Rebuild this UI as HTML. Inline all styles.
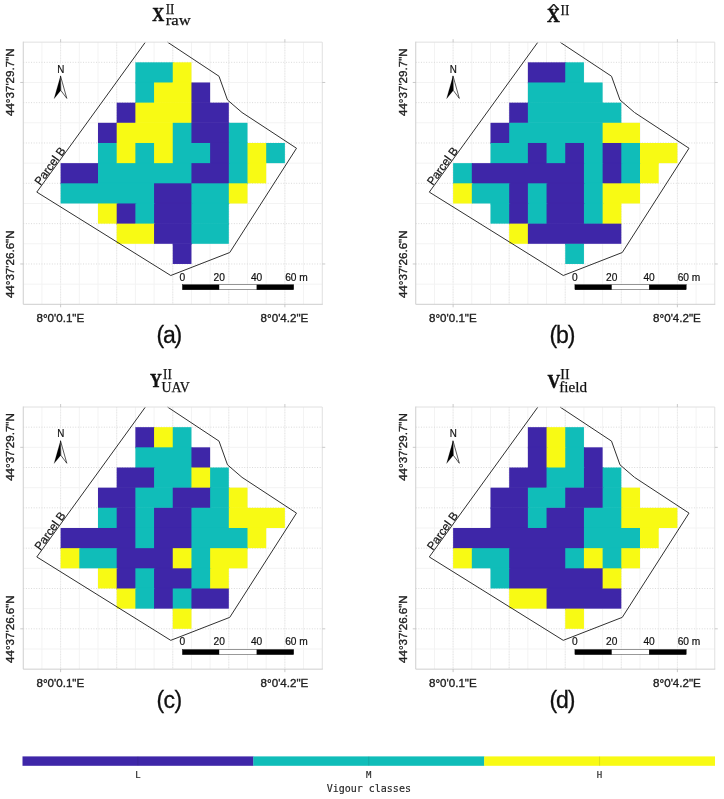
<!DOCTYPE html>
<html><head><meta charset="utf-8"><title>Vigour classes</title>
<style>
html,body{margin:0;padding:0;background:#fff}
svg{display:block}
.gs{stroke:#f3f3f3;stroke-width:1}
.gd{stroke:#dadada;stroke-width:1;stroke-dasharray:1 1.6}
.gv{stroke:#e6e6e6;stroke-width:1;stroke-dasharray:1 1.6}
.ax{fill:none;stroke:#cecece;stroke-width:1}
.ax2{fill:none;stroke:#e0e0e0;stroke-width:1}
.tk{stroke:#bdbdbd;stroke-width:0.8}
.pg{fill:none;stroke:#303030;stroke-width:1;stroke-linejoin:miter}
.n{font:11.2px "Liberation Sans",sans-serif;fill:#111;stroke:#111;stroke-width:0.2}
.pb{font:11.6px "Liberation Sans",sans-serif;fill:#111;stroke:#111;stroke-width:0.2}
.tl{font:11.6px "Liberation Sans",sans-serif;fill:#222;stroke:#222;stroke-width:0.35}
.sb{font:10.2px "Liberation Sans",sans-serif;fill:#111;stroke:#111;stroke-width:0.2}
.lt{font:23px "Liberation Sans",sans-serif;fill:#111;stroke:#111;stroke-width:0.3}
.tb{font:bold 19.5px "Liberation Serif",serif;fill:#111;stroke:#111;stroke-width:0.45}
.ts{font-family:"Liberation Serif",serif;fill:#111;stroke:#111;stroke-width:0.25}
.mono{font-family:"DejaVu Sans Mono","Liberation Mono",monospace;fill:#262626;stroke:#262626;stroke-width:0.15}
</style></head><body>
<svg width="724" height="799" viewBox="0 0 724 799">
<rect width="724" height="799" fill="#fff"/>
<g transform="translate(0,0)">
<rect x="23.25" y="42.15" width="299" height="262.15" fill="#fff"/>
<line x1="41.94" y1="42.15" x2="41.94" y2="304.3" class="gs"/>
<line x1="60.62" y1="42.15" x2="60.62" y2="304.3" class="gs"/>
<line x1="60.62" y1="42.15" x2="60.62" y2="304.3" class="gv"/>
<line x1="79.31" y1="42.15" x2="79.31" y2="304.3" class="gs"/>
<line x1="98" y1="42.15" x2="98" y2="304.3" class="gs"/>
<line x1="116.69" y1="42.15" x2="116.69" y2="304.3" class="gs"/>
<line x1="116.69" y1="42.15" x2="116.69" y2="304.3" class="gv"/>
<line x1="135.38" y1="42.15" x2="135.38" y2="304.3" class="gs"/>
<line x1="154.06" y1="42.15" x2="154.06" y2="304.3" class="gs"/>
<line x1="172.75" y1="42.15" x2="172.75" y2="304.3" class="gs"/>
<line x1="172.75" y1="42.15" x2="172.75" y2="304.3" class="gv"/>
<line x1="191.44" y1="42.15" x2="191.44" y2="304.3" class="gs"/>
<line x1="210.12" y1="42.15" x2="210.12" y2="304.3" class="gs"/>
<line x1="228.81" y1="42.15" x2="228.81" y2="304.3" class="gs"/>
<line x1="228.81" y1="42.15" x2="228.81" y2="304.3" class="gv"/>
<line x1="247.5" y1="42.15" x2="247.5" y2="304.3" class="gs"/>
<line x1="266.19" y1="42.15" x2="266.19" y2="304.3" class="gs"/>
<line x1="284.88" y1="42.15" x2="284.88" y2="304.3" class="gs"/>
<line x1="284.88" y1="42.15" x2="284.88" y2="304.3" class="gv"/>
<line x1="303.56" y1="42.15" x2="303.56" y2="304.3" class="gs"/>
<line x1="23.25" y1="62.32" x2="322.25" y2="62.32" class="gd"/>
<line x1="23.25" y1="82.48" x2="322.25" y2="82.48" class="gs"/>
<line x1="23.25" y1="102.65" x2="322.25" y2="102.65" class="gd"/>
<line x1="23.25" y1="122.81" x2="322.25" y2="122.81" class="gs"/>
<line x1="23.25" y1="142.98" x2="322.25" y2="142.98" class="gd"/>
<line x1="23.25" y1="163.14" x2="322.25" y2="163.14" class="gs"/>
<line x1="23.25" y1="183.31" x2="322.25" y2="183.31" class="gd"/>
<line x1="23.25" y1="203.47" x2="322.25" y2="203.47" class="gs"/>
<line x1="23.25" y1="223.64" x2="322.25" y2="223.64" class="gd"/>
<line x1="23.25" y1="243.8" x2="322.25" y2="243.8" class="gs"/>
<line x1="23.25" y1="263.97" x2="322.25" y2="263.97" class="gd"/>
<line x1="23.25" y1="284.13" x2="322.25" y2="284.13" class="gs"/>
<rect x="135.38" y="62.32" width="38.38" height="20.17" fill="#10bdb9"/>
<rect x="172.75" y="62.32" width="18.69" height="20.17" fill="#f8fa14"/>
<rect x="135.38" y="81.98" width="37.38" height="1.5" fill="#10bdb9"/>
<rect x="172.75" y="81.98" width="18.69" height="1.5" fill="#f8fa14"/>
<rect x="135.38" y="82.48" width="19.69" height="20.17" fill="#10bdb9"/>
<rect x="154.06" y="82.48" width="38.38" height="20.17" fill="#f8fa14"/>
<rect x="191.44" y="82.48" width="18.69" height="20.17" fill="#3e26a8"/>
<rect x="135.38" y="102.15" width="18.69" height="1.5" fill="#10bdb9"/>
<rect x="154.06" y="102.15" width="37.38" height="1.5" fill="#f8fa14"/>
<rect x="191.44" y="102.15" width="18.69" height="1.5" fill="#3e26a8"/>
<rect x="116.69" y="102.65" width="19.69" height="20.17" fill="#3e26a8"/>
<rect x="135.38" y="102.65" width="57.06" height="20.17" fill="#f8fa14"/>
<rect x="191.44" y="102.65" width="37.38" height="20.17" fill="#3e26a8"/>
<rect x="116.69" y="122.31" width="18.69" height="1.5" fill="#3e26a8"/>
<rect x="135.38" y="122.31" width="56.06" height="1.5" fill="#f8fa14"/>
<rect x="191.44" y="122.31" width="37.38" height="1.5" fill="#3e26a8"/>
<rect x="98" y="122.81" width="19.69" height="20.17" fill="#3e26a8"/>
<rect x="116.69" y="122.81" width="57.06" height="20.17" fill="#f8fa14"/>
<rect x="172.75" y="122.81" width="19.69" height="20.17" fill="#10bdb9"/>
<rect x="191.44" y="122.81" width="38.38" height="20.17" fill="#3e26a8"/>
<rect x="228.81" y="122.81" width="18.69" height="20.17" fill="#10bdb9"/>
<rect x="98" y="142.48" width="18.69" height="1.5" fill="#3e26a8"/>
<rect x="116.69" y="142.48" width="56.06" height="1.5" fill="#f8fa14"/>
<rect x="172.75" y="142.48" width="18.69" height="1.5" fill="#10bdb9"/>
<rect x="191.44" y="142.48" width="37.38" height="1.5" fill="#3e26a8"/>
<rect x="228.81" y="142.48" width="18.69" height="1.5" fill="#10bdb9"/>
<rect x="98" y="142.98" width="19.69" height="20.17" fill="#10bdb9"/>
<rect x="116.69" y="142.98" width="19.69" height="20.17" fill="#f8fa14"/>
<rect x="135.38" y="142.98" width="19.69" height="20.17" fill="#10bdb9"/>
<rect x="154.06" y="142.98" width="19.69" height="20.17" fill="#f8fa14"/>
<rect x="172.75" y="142.98" width="38.38" height="20.17" fill="#10bdb9"/>
<rect x="210.12" y="142.98" width="19.69" height="20.17" fill="#3e26a8"/>
<rect x="228.81" y="142.98" width="19.69" height="20.17" fill="#10bdb9"/>
<rect x="247.5" y="142.98" width="19.69" height="20.17" fill="#f8fa14"/>
<rect x="266.19" y="142.98" width="18.69" height="20.17" fill="#10bdb9"/>
<rect x="98" y="162.64" width="18.69" height="1.5" fill="#10bdb9"/>
<rect x="116.69" y="162.64" width="18.69" height="1.5" fill="#f8fa14"/>
<rect x="135.38" y="162.64" width="18.69" height="1.5" fill="#10bdb9"/>
<rect x="154.06" y="162.64" width="18.69" height="1.5" fill="#f8fa14"/>
<rect x="172.75" y="162.64" width="37.38" height="1.5" fill="#10bdb9"/>
<rect x="210.12" y="162.64" width="18.69" height="1.5" fill="#3e26a8"/>
<rect x="228.81" y="162.64" width="18.69" height="1.5" fill="#10bdb9"/>
<rect x="247.5" y="162.64" width="18.69" height="1.5" fill="#f8fa14"/>
<rect x="60.62" y="163.14" width="38.38" height="20.17" fill="#3e26a8"/>
<rect x="98" y="163.14" width="94.44" height="20.17" fill="#10bdb9"/>
<rect x="191.44" y="163.14" width="38.38" height="20.17" fill="#3e26a8"/>
<rect x="228.81" y="163.14" width="19.69" height="20.17" fill="#10bdb9"/>
<rect x="247.5" y="163.14" width="18.69" height="20.17" fill="#f8fa14"/>
<rect x="60.62" y="182.81" width="37.38" height="1.5" fill="#3e26a8"/>
<rect x="98" y="182.81" width="93.44" height="1.5" fill="#10bdb9"/>
<rect x="191.44" y="182.81" width="37.38" height="1.5" fill="#3e26a8"/>
<rect x="228.81" y="182.81" width="18.69" height="1.5" fill="#10bdb9"/>
<rect x="60.62" y="183.31" width="94.44" height="20.17" fill="#10bdb9"/>
<rect x="154.06" y="183.31" width="38.38" height="20.17" fill="#3e26a8"/>
<rect x="191.44" y="183.31" width="38.38" height="20.17" fill="#10bdb9"/>
<rect x="228.81" y="183.31" width="18.69" height="20.17" fill="#f8fa14"/>
<rect x="98" y="202.97" width="56.06" height="1.5" fill="#10bdb9"/>
<rect x="154.06" y="202.97" width="37.38" height="1.5" fill="#3e26a8"/>
<rect x="191.44" y="202.97" width="37.38" height="1.5" fill="#10bdb9"/>
<rect x="98" y="203.47" width="19.69" height="20.17" fill="#f8fa14"/>
<rect x="116.69" y="203.47" width="19.69" height="20.17" fill="#3e26a8"/>
<rect x="135.38" y="203.47" width="19.69" height="20.17" fill="#10bdb9"/>
<rect x="154.06" y="203.47" width="38.38" height="20.17" fill="#3e26a8"/>
<rect x="191.44" y="203.47" width="37.38" height="20.17" fill="#10bdb9"/>
<rect x="116.69" y="223.14" width="18.69" height="1.5" fill="#3e26a8"/>
<rect x="135.38" y="223.14" width="18.69" height="1.5" fill="#10bdb9"/>
<rect x="154.06" y="223.14" width="37.38" height="1.5" fill="#3e26a8"/>
<rect x="191.44" y="223.14" width="37.38" height="1.5" fill="#10bdb9"/>
<rect x="116.69" y="223.64" width="38.38" height="20.17" fill="#f8fa14"/>
<rect x="154.06" y="223.64" width="38.38" height="20.17" fill="#3e26a8"/>
<rect x="191.44" y="223.64" width="37.38" height="20.17" fill="#10bdb9"/>
<rect x="172.75" y="243.3" width="18.69" height="1.5" fill="#3e26a8"/>
<rect x="172.75" y="243.8" width="18.69" height="20.17" fill="#3e26a8"/>
<path class="pg" d="M145.4 42.15 L36.8 192.1 L170.75 275.5 L229.75 252.5 L296.5 148.25 L242 112.5 L227.5 100 L219 76.25 L167.5 42.15"/>
<path d="M23.25 42.15 H322.25 V304.3" class="ax2"/><path d="M23.25 41.65 V304.3 H322.75" class="ax"/>
<line x1="60.62" y1="39.15" x2="60.62" y2="42.15" class="tk"/><line x1="60.62" y1="304.3" x2="60.62" y2="307.3" class="tk"/>
<line x1="284.88" y1="39.15" x2="284.88" y2="42.15" class="tk"/><line x1="284.88" y1="304.3" x2="284.88" y2="307.3" class="tk"/>
<line x1="20.25" y1="82.48" x2="23.25" y2="82.48" class="tk"/><line x1="322.25" y1="82.48" x2="325.25" y2="82.48" class="tk"/>
<line x1="20.25" y1="263.97" x2="23.25" y2="263.97" class="tk"/><line x1="322.25" y1="263.97" x2="325.25" y2="263.97" class="tk"/>
<rect x="56.3" y="63.5" width="8.4" height="37" fill="#fff"/><text x="57.3" y="72.5" class="n" textLength="7.1" lengthAdjust="spacingAndGlyphs">N</text>
<path d="M60.5 75.9 L54.05 98.7 L60.8 90.4 Z" fill="#000" stroke="#000" stroke-width="0.15"/><path d="M60.5 75.9 L66.8 98.4 L60.8 90.4 Z" fill="#fff" stroke="#000" stroke-width="0.65"/>
<text class="pb" transform="translate(40.3,186.1) rotate(-54)">Parcel B</text>
<text class="tl" text-anchor="middle" x="60.33" y="322.4">8°0'0.1"E</text>
<text class="tl" text-anchor="middle" x="284.48" y="322.4">8°0'4.2"E</text>
<text class="tl" text-anchor="middle" transform="translate(14.2,82.18) rotate(-90)">44°37'29.7"N</text>
<text class="tl" text-anchor="middle" transform="translate(14.2,264.27) rotate(-90)">44°37'26.6"N</text>
<rect x="182.4" y="284.8" width="111.3" height="4.9" fill="#fff" stroke="#000" stroke-width="0.4"/><rect x="182.4" y="284.7" width="36.8" height="5.1" fill="#000"/><rect x="256.6" y="284.7" width="37.1" height="5.1" fill="#000"/>
<text class="sb" text-anchor="middle" x="182.4" y="280.6">0</text><text class="sb" text-anchor="middle" x="219.2" y="280.6">20</text><text class="sb" text-anchor="middle" x="256.6" y="280.6">40</text><text class="sb" x="285.2" y="280.6">60 m</text>
<text class="lt" x="156.4" y="343.1" textLength="25.8" lengthAdjust="spacing">(a)</text>
<text class="tb" x="152.2" y="20.7" textLength="12" lengthAdjust="spacingAndGlyphs">X</text><text class="ts" x="165.7" y="13.7" font-size="14.4" textLength="8.7" lengthAdjust="spacingAndGlyphs">II</text><text class="ts" x="165.8" y="24.9" font-size="15" textLength="25" lengthAdjust="spacingAndGlyphs">raw</text>
</g>
<g transform="translate(392.5,0)">
<rect x="23.25" y="42.15" width="299" height="262.15" fill="#fff"/>
<line x1="41.94" y1="42.15" x2="41.94" y2="304.3" class="gs"/>
<line x1="60.62" y1="42.15" x2="60.62" y2="304.3" class="gs"/>
<line x1="60.62" y1="42.15" x2="60.62" y2="304.3" class="gv"/>
<line x1="79.31" y1="42.15" x2="79.31" y2="304.3" class="gs"/>
<line x1="98" y1="42.15" x2="98" y2="304.3" class="gs"/>
<line x1="116.69" y1="42.15" x2="116.69" y2="304.3" class="gs"/>
<line x1="116.69" y1="42.15" x2="116.69" y2="304.3" class="gv"/>
<line x1="135.38" y1="42.15" x2="135.38" y2="304.3" class="gs"/>
<line x1="154.06" y1="42.15" x2="154.06" y2="304.3" class="gs"/>
<line x1="172.75" y1="42.15" x2="172.75" y2="304.3" class="gs"/>
<line x1="172.75" y1="42.15" x2="172.75" y2="304.3" class="gv"/>
<line x1="191.44" y1="42.15" x2="191.44" y2="304.3" class="gs"/>
<line x1="210.12" y1="42.15" x2="210.12" y2="304.3" class="gs"/>
<line x1="228.81" y1="42.15" x2="228.81" y2="304.3" class="gs"/>
<line x1="228.81" y1="42.15" x2="228.81" y2="304.3" class="gv"/>
<line x1="247.5" y1="42.15" x2="247.5" y2="304.3" class="gs"/>
<line x1="266.19" y1="42.15" x2="266.19" y2="304.3" class="gs"/>
<line x1="284.88" y1="42.15" x2="284.88" y2="304.3" class="gs"/>
<line x1="284.88" y1="42.15" x2="284.88" y2="304.3" class="gv"/>
<line x1="303.56" y1="42.15" x2="303.56" y2="304.3" class="gs"/>
<line x1="23.25" y1="62.32" x2="322.25" y2="62.32" class="gd"/>
<line x1="23.25" y1="82.48" x2="322.25" y2="82.48" class="gs"/>
<line x1="23.25" y1="102.65" x2="322.25" y2="102.65" class="gd"/>
<line x1="23.25" y1="122.81" x2="322.25" y2="122.81" class="gs"/>
<line x1="23.25" y1="142.98" x2="322.25" y2="142.98" class="gd"/>
<line x1="23.25" y1="163.14" x2="322.25" y2="163.14" class="gs"/>
<line x1="23.25" y1="183.31" x2="322.25" y2="183.31" class="gd"/>
<line x1="23.25" y1="203.47" x2="322.25" y2="203.47" class="gs"/>
<line x1="23.25" y1="223.64" x2="322.25" y2="223.64" class="gd"/>
<line x1="23.25" y1="243.8" x2="322.25" y2="243.8" class="gs"/>
<line x1="23.25" y1="263.97" x2="322.25" y2="263.97" class="gd"/>
<line x1="23.25" y1="284.13" x2="322.25" y2="284.13" class="gs"/>
<rect x="135.38" y="62.32" width="38.38" height="20.17" fill="#3e26a8"/>
<rect x="172.75" y="62.32" width="18.69" height="20.17" fill="#10bdb9"/>
<rect x="135.38" y="81.98" width="37.38" height="1.5" fill="#3e26a8"/>
<rect x="172.75" y="81.98" width="18.69" height="1.5" fill="#10bdb9"/>
<rect x="135.38" y="82.48" width="74.75" height="20.17" fill="#10bdb9"/>
<rect x="135.38" y="102.15" width="74.75" height="1.5" fill="#10bdb9"/>
<rect x="116.69" y="102.65" width="19.69" height="20.17" fill="#3e26a8"/>
<rect x="135.38" y="102.65" width="93.44" height="20.17" fill="#10bdb9"/>
<rect x="116.69" y="122.31" width="18.69" height="1.5" fill="#3e26a8"/>
<rect x="135.38" y="122.31" width="93.44" height="1.5" fill="#10bdb9"/>
<rect x="98" y="122.81" width="19.69" height="20.17" fill="#3e26a8"/>
<rect x="116.69" y="122.81" width="94.44" height="20.17" fill="#10bdb9"/>
<rect x="210.12" y="122.81" width="37.38" height="20.17" fill="#f8fa14"/>
<rect x="98" y="142.48" width="18.69" height="1.5" fill="#3e26a8"/>
<rect x="116.69" y="142.48" width="93.44" height="1.5" fill="#10bdb9"/>
<rect x="210.12" y="142.48" width="37.38" height="1.5" fill="#f8fa14"/>
<rect x="98" y="142.98" width="38.38" height="20.17" fill="#10bdb9"/>
<rect x="135.38" y="142.98" width="19.69" height="20.17" fill="#3e26a8"/>
<rect x="154.06" y="142.98" width="19.69" height="20.17" fill="#10bdb9"/>
<rect x="172.75" y="142.98" width="19.69" height="20.17" fill="#3e26a8"/>
<rect x="191.44" y="142.98" width="19.69" height="20.17" fill="#10bdb9"/>
<rect x="210.12" y="142.98" width="19.69" height="20.17" fill="#3e26a8"/>
<rect x="228.81" y="142.98" width="19.69" height="20.17" fill="#10bdb9"/>
<rect x="247.5" y="142.98" width="37.38" height="20.17" fill="#f8fa14"/>
<rect x="98" y="162.64" width="37.38" height="1.5" fill="#10bdb9"/>
<rect x="135.38" y="162.64" width="18.69" height="1.5" fill="#3e26a8"/>
<rect x="154.06" y="162.64" width="18.69" height="1.5" fill="#10bdb9"/>
<rect x="172.75" y="162.64" width="18.69" height="1.5" fill="#3e26a8"/>
<rect x="191.44" y="162.64" width="18.69" height="1.5" fill="#10bdb9"/>
<rect x="210.12" y="162.64" width="18.69" height="1.5" fill="#3e26a8"/>
<rect x="228.81" y="162.64" width="18.69" height="1.5" fill="#10bdb9"/>
<rect x="247.5" y="162.64" width="18.69" height="1.5" fill="#f8fa14"/>
<rect x="60.62" y="163.14" width="19.69" height="20.17" fill="#10bdb9"/>
<rect x="79.31" y="163.14" width="113.12" height="20.17" fill="#3e26a8"/>
<rect x="191.44" y="163.14" width="19.69" height="20.17" fill="#10bdb9"/>
<rect x="210.12" y="163.14" width="19.69" height="20.17" fill="#3e26a8"/>
<rect x="228.81" y="163.14" width="19.69" height="20.17" fill="#10bdb9"/>
<rect x="247.5" y="163.14" width="18.69" height="20.17" fill="#f8fa14"/>
<rect x="60.62" y="182.81" width="18.69" height="1.5" fill="#10bdb9"/>
<rect x="79.31" y="182.81" width="112.12" height="1.5" fill="#3e26a8"/>
<rect x="191.44" y="182.81" width="18.69" height="1.5" fill="#10bdb9"/>
<rect x="210.12" y="182.81" width="18.69" height="1.5" fill="#3e26a8"/>
<rect x="228.81" y="182.81" width="18.69" height="1.5" fill="#10bdb9"/>
<rect x="60.62" y="183.31" width="19.69" height="20.17" fill="#f8fa14"/>
<rect x="79.31" y="183.31" width="38.38" height="20.17" fill="#10bdb9"/>
<rect x="116.69" y="183.31" width="19.69" height="20.17" fill="#3e26a8"/>
<rect x="135.38" y="183.31" width="19.69" height="20.17" fill="#10bdb9"/>
<rect x="154.06" y="183.31" width="38.38" height="20.17" fill="#3e26a8"/>
<rect x="191.44" y="183.31" width="19.69" height="20.17" fill="#10bdb9"/>
<rect x="210.12" y="183.31" width="37.38" height="20.17" fill="#f8fa14"/>
<rect x="98" y="202.97" width="18.69" height="1.5" fill="#10bdb9"/>
<rect x="116.69" y="202.97" width="18.69" height="1.5" fill="#3e26a8"/>
<rect x="135.38" y="202.97" width="18.69" height="1.5" fill="#10bdb9"/>
<rect x="154.06" y="202.97" width="37.38" height="1.5" fill="#3e26a8"/>
<rect x="191.44" y="202.97" width="18.69" height="1.5" fill="#10bdb9"/>
<rect x="210.12" y="202.97" width="18.69" height="1.5" fill="#f8fa14"/>
<rect x="98" y="203.47" width="19.69" height="20.17" fill="#10bdb9"/>
<rect x="116.69" y="203.47" width="19.69" height="20.17" fill="#3e26a8"/>
<rect x="135.38" y="203.47" width="19.69" height="20.17" fill="#10bdb9"/>
<rect x="154.06" y="203.47" width="38.38" height="20.17" fill="#3e26a8"/>
<rect x="191.44" y="203.47" width="19.69" height="20.17" fill="#10bdb9"/>
<rect x="210.12" y="203.47" width="18.69" height="20.17" fill="#f8fa14"/>
<rect x="116.69" y="223.14" width="18.69" height="1.5" fill="#3e26a8"/>
<rect x="135.38" y="223.14" width="18.69" height="1.5" fill="#10bdb9"/>
<rect x="154.06" y="223.14" width="37.38" height="1.5" fill="#3e26a8"/>
<rect x="191.44" y="223.14" width="18.69" height="1.5" fill="#10bdb9"/>
<rect x="210.12" y="223.14" width="18.69" height="1.5" fill="#f8fa14"/>
<rect x="116.69" y="223.64" width="19.69" height="20.17" fill="#f8fa14"/>
<rect x="135.38" y="223.64" width="93.44" height="20.17" fill="#3e26a8"/>
<rect x="172.75" y="243.3" width="18.69" height="1.5" fill="#3e26a8"/>
<rect x="172.75" y="243.8" width="18.69" height="20.17" fill="#10bdb9"/>
<path class="pg" d="M145.4 42.15 L36.8 192.1 L170.75 275.5 L229.75 252.5 L296.5 148.25 L242 112.5 L227.5 100 L219 76.25 L167.5 42.15"/>
<path d="M23.25 42.15 H322.25 V304.3" class="ax2"/><path d="M23.25 41.65 V304.3 H322.75" class="ax"/>
<line x1="60.62" y1="39.15" x2="60.62" y2="42.15" class="tk"/><line x1="60.62" y1="304.3" x2="60.62" y2="307.3" class="tk"/>
<line x1="284.88" y1="39.15" x2="284.88" y2="42.15" class="tk"/><line x1="284.88" y1="304.3" x2="284.88" y2="307.3" class="tk"/>
<line x1="20.25" y1="82.48" x2="23.25" y2="82.48" class="tk"/><line x1="322.25" y1="82.48" x2="325.25" y2="82.48" class="tk"/>
<line x1="20.25" y1="263.97" x2="23.25" y2="263.97" class="tk"/><line x1="322.25" y1="263.97" x2="325.25" y2="263.97" class="tk"/>
<rect x="56.3" y="63.5" width="8.4" height="37" fill="#fff"/><text x="57.3" y="72.5" class="n" textLength="7.1" lengthAdjust="spacingAndGlyphs">N</text>
<path d="M60.5 75.9 L54.05 98.7 L60.8 90.4 Z" fill="#000" stroke="#000" stroke-width="0.15"/><path d="M60.5 75.9 L66.8 98.4 L60.8 90.4 Z" fill="#fff" stroke="#000" stroke-width="0.65"/>
<text class="pb" transform="translate(40.3,186.1) rotate(-54)">Parcel B</text>
<text class="tl" text-anchor="middle" x="60.33" y="322.4">8°0'0.1"E</text>
<text class="tl" text-anchor="middle" x="284.48" y="322.4">8°0'4.2"E</text>
<text class="tl" text-anchor="middle" transform="translate(14.2,82.18) rotate(-90)">44°37'29.7"N</text>
<text class="tl" text-anchor="middle" transform="translate(14.2,264.27) rotate(-90)">44°37'26.6"N</text>
<rect x="182.4" y="284.8" width="111.3" height="4.9" fill="#fff" stroke="#000" stroke-width="0.4"/><rect x="182.4" y="284.7" width="36.8" height="5.1" fill="#000"/><rect x="256.6" y="284.7" width="37.1" height="5.1" fill="#000"/>
<text class="sb" text-anchor="middle" x="182.4" y="280.6">0</text><text class="sb" text-anchor="middle" x="219.2" y="280.6">20</text><text class="sb" text-anchor="middle" x="256.6" y="280.6">40</text><text class="sb" x="285.2" y="280.6">60 m</text>
<text class="lt" x="157.1" y="343.1" textLength="25.8" lengthAdjust="spacing">(b)</text>
<text class="tb" x="154.4" y="22" textLength="12.8" lengthAdjust="spacingAndGlyphs" font-size="19.8">X</text><text class="tb" transform="translate(155.0,10.9) scale(1.1,0.5)" font-size="20">^</text><text class="ts" x="168" y="14.9" font-size="14.6" textLength="8.9" lengthAdjust="spacingAndGlyphs">II</text>
</g>
<g transform="translate(0,364.85)">
<rect x="23.25" y="42.15" width="299" height="262.15" fill="#fff"/>
<line x1="41.94" y1="42.15" x2="41.94" y2="304.3" class="gs"/>
<line x1="60.62" y1="42.15" x2="60.62" y2="304.3" class="gs"/>
<line x1="60.62" y1="42.15" x2="60.62" y2="304.3" class="gv"/>
<line x1="79.31" y1="42.15" x2="79.31" y2="304.3" class="gs"/>
<line x1="98" y1="42.15" x2="98" y2="304.3" class="gs"/>
<line x1="116.69" y1="42.15" x2="116.69" y2="304.3" class="gs"/>
<line x1="116.69" y1="42.15" x2="116.69" y2="304.3" class="gv"/>
<line x1="135.38" y1="42.15" x2="135.38" y2="304.3" class="gs"/>
<line x1="154.06" y1="42.15" x2="154.06" y2="304.3" class="gs"/>
<line x1="172.75" y1="42.15" x2="172.75" y2="304.3" class="gs"/>
<line x1="172.75" y1="42.15" x2="172.75" y2="304.3" class="gv"/>
<line x1="191.44" y1="42.15" x2="191.44" y2="304.3" class="gs"/>
<line x1="210.12" y1="42.15" x2="210.12" y2="304.3" class="gs"/>
<line x1="228.81" y1="42.15" x2="228.81" y2="304.3" class="gs"/>
<line x1="228.81" y1="42.15" x2="228.81" y2="304.3" class="gv"/>
<line x1="247.5" y1="42.15" x2="247.5" y2="304.3" class="gs"/>
<line x1="266.19" y1="42.15" x2="266.19" y2="304.3" class="gs"/>
<line x1="284.88" y1="42.15" x2="284.88" y2="304.3" class="gs"/>
<line x1="284.88" y1="42.15" x2="284.88" y2="304.3" class="gv"/>
<line x1="303.56" y1="42.15" x2="303.56" y2="304.3" class="gs"/>
<line x1="23.25" y1="62.32" x2="322.25" y2="62.32" class="gd"/>
<line x1="23.25" y1="82.48" x2="322.25" y2="82.48" class="gs"/>
<line x1="23.25" y1="102.65" x2="322.25" y2="102.65" class="gd"/>
<line x1="23.25" y1="122.81" x2="322.25" y2="122.81" class="gs"/>
<line x1="23.25" y1="142.98" x2="322.25" y2="142.98" class="gd"/>
<line x1="23.25" y1="163.14" x2="322.25" y2="163.14" class="gs"/>
<line x1="23.25" y1="183.31" x2="322.25" y2="183.31" class="gd"/>
<line x1="23.25" y1="203.47" x2="322.25" y2="203.47" class="gs"/>
<line x1="23.25" y1="223.64" x2="322.25" y2="223.64" class="gd"/>
<line x1="23.25" y1="243.8" x2="322.25" y2="243.8" class="gs"/>
<line x1="23.25" y1="263.97" x2="322.25" y2="263.97" class="gd"/>
<line x1="23.25" y1="284.13" x2="322.25" y2="284.13" class="gs"/>
<rect x="135.38" y="62.32" width="19.69" height="20.17" fill="#3e26a8"/>
<rect x="154.06" y="62.32" width="19.69" height="20.17" fill="#f8fa14"/>
<rect x="172.75" y="62.32" width="18.69" height="20.17" fill="#10bdb9"/>
<rect x="135.38" y="81.98" width="18.69" height="1.5" fill="#3e26a8"/>
<rect x="154.06" y="81.98" width="18.69" height="1.5" fill="#f8fa14"/>
<rect x="172.75" y="81.98" width="18.69" height="1.5" fill="#10bdb9"/>
<rect x="135.38" y="82.48" width="57.06" height="20.17" fill="#10bdb9"/>
<rect x="191.44" y="82.48" width="18.69" height="20.17" fill="#3e26a8"/>
<rect x="135.38" y="102.15" width="56.06" height="1.5" fill="#10bdb9"/>
<rect x="191.44" y="102.15" width="18.69" height="1.5" fill="#3e26a8"/>
<rect x="116.69" y="102.65" width="38.38" height="20.17" fill="#3e26a8"/>
<rect x="154.06" y="102.65" width="38.38" height="20.17" fill="#10bdb9"/>
<rect x="191.44" y="102.65" width="19.69" height="20.17" fill="#f8fa14"/>
<rect x="210.12" y="102.65" width="18.69" height="20.17" fill="#10bdb9"/>
<rect x="116.69" y="122.31" width="37.38" height="1.5" fill="#3e26a8"/>
<rect x="154.06" y="122.31" width="37.38" height="1.5" fill="#10bdb9"/>
<rect x="191.44" y="122.31" width="18.69" height="1.5" fill="#f8fa14"/>
<rect x="210.12" y="122.31" width="18.69" height="1.5" fill="#10bdb9"/>
<rect x="98" y="122.81" width="38.38" height="20.17" fill="#3e26a8"/>
<rect x="135.38" y="122.81" width="38.38" height="20.17" fill="#10bdb9"/>
<rect x="172.75" y="122.81" width="38.38" height="20.17" fill="#3e26a8"/>
<rect x="210.12" y="122.81" width="19.69" height="20.17" fill="#10bdb9"/>
<rect x="228.81" y="122.81" width="18.69" height="20.17" fill="#f8fa14"/>
<rect x="98" y="142.48" width="37.38" height="1.5" fill="#3e26a8"/>
<rect x="135.38" y="142.48" width="37.38" height="1.5" fill="#10bdb9"/>
<rect x="172.75" y="142.48" width="37.38" height="1.5" fill="#3e26a8"/>
<rect x="210.12" y="142.48" width="18.69" height="1.5" fill="#10bdb9"/>
<rect x="228.81" y="142.48" width="18.69" height="1.5" fill="#f8fa14"/>
<rect x="98" y="142.98" width="19.69" height="20.17" fill="#10bdb9"/>
<rect x="116.69" y="142.98" width="19.69" height="20.17" fill="#3e26a8"/>
<rect x="135.38" y="142.98" width="19.69" height="20.17" fill="#10bdb9"/>
<rect x="154.06" y="142.98" width="38.38" height="20.17" fill="#3e26a8"/>
<rect x="191.44" y="142.98" width="38.38" height="20.17" fill="#10bdb9"/>
<rect x="228.81" y="142.98" width="56.06" height="20.17" fill="#f8fa14"/>
<rect x="98" y="162.64" width="18.69" height="1.5" fill="#10bdb9"/>
<rect x="116.69" y="162.64" width="18.69" height="1.5" fill="#3e26a8"/>
<rect x="135.38" y="162.64" width="18.69" height="1.5" fill="#10bdb9"/>
<rect x="154.06" y="162.64" width="37.38" height="1.5" fill="#3e26a8"/>
<rect x="191.44" y="162.64" width="37.38" height="1.5" fill="#10bdb9"/>
<rect x="228.81" y="162.64" width="37.38" height="1.5" fill="#f8fa14"/>
<rect x="60.62" y="163.14" width="75.75" height="20.17" fill="#3e26a8"/>
<rect x="135.38" y="163.14" width="19.69" height="20.17" fill="#10bdb9"/>
<rect x="154.06" y="163.14" width="38.38" height="20.17" fill="#3e26a8"/>
<rect x="191.44" y="163.14" width="57.06" height="20.17" fill="#10bdb9"/>
<rect x="247.5" y="163.14" width="18.69" height="20.17" fill="#f8fa14"/>
<rect x="60.62" y="182.81" width="74.75" height="1.5" fill="#3e26a8"/>
<rect x="135.38" y="182.81" width="18.69" height="1.5" fill="#10bdb9"/>
<rect x="154.06" y="182.81" width="37.38" height="1.5" fill="#3e26a8"/>
<rect x="191.44" y="182.81" width="56.06" height="1.5" fill="#10bdb9"/>
<rect x="60.62" y="183.31" width="19.69" height="20.17" fill="#f8fa14"/>
<rect x="79.31" y="183.31" width="38.38" height="20.17" fill="#10bdb9"/>
<rect x="116.69" y="183.31" width="57.06" height="20.17" fill="#3e26a8"/>
<rect x="172.75" y="183.31" width="19.69" height="20.17" fill="#f8fa14"/>
<rect x="191.44" y="183.31" width="19.69" height="20.17" fill="#10bdb9"/>
<rect x="210.12" y="183.31" width="37.38" height="20.17" fill="#f8fa14"/>
<rect x="98" y="202.97" width="18.69" height="1.5" fill="#10bdb9"/>
<rect x="116.69" y="202.97" width="56.06" height="1.5" fill="#3e26a8"/>
<rect x="172.75" y="202.97" width="18.69" height="1.5" fill="#f8fa14"/>
<rect x="191.44" y="202.97" width="18.69" height="1.5" fill="#10bdb9"/>
<rect x="210.12" y="202.97" width="18.69" height="1.5" fill="#f8fa14"/>
<rect x="98" y="203.47" width="19.69" height="20.17" fill="#f8fa14"/>
<rect x="116.69" y="203.47" width="19.69" height="20.17" fill="#3e26a8"/>
<rect x="135.38" y="203.47" width="19.69" height="20.17" fill="#10bdb9"/>
<rect x="154.06" y="203.47" width="38.38" height="20.17" fill="#3e26a8"/>
<rect x="191.44" y="203.47" width="19.69" height="20.17" fill="#10bdb9"/>
<rect x="210.12" y="203.47" width="18.69" height="20.17" fill="#f8fa14"/>
<rect x="116.69" y="223.14" width="18.69" height="1.5" fill="#3e26a8"/>
<rect x="135.38" y="223.14" width="18.69" height="1.5" fill="#10bdb9"/>
<rect x="154.06" y="223.14" width="37.38" height="1.5" fill="#3e26a8"/>
<rect x="191.44" y="223.14" width="18.69" height="1.5" fill="#10bdb9"/>
<rect x="210.12" y="223.14" width="18.69" height="1.5" fill="#f8fa14"/>
<rect x="116.69" y="223.64" width="19.69" height="20.17" fill="#f8fa14"/>
<rect x="135.38" y="223.64" width="19.69" height="20.17" fill="#10bdb9"/>
<rect x="154.06" y="223.64" width="19.69" height="20.17" fill="#3e26a8"/>
<rect x="172.75" y="223.64" width="19.69" height="20.17" fill="#10bdb9"/>
<rect x="191.44" y="223.64" width="37.38" height="20.17" fill="#3e26a8"/>
<rect x="172.75" y="243.3" width="18.69" height="1.5" fill="#10bdb9"/>
<rect x="172.75" y="243.8" width="18.69" height="20.17" fill="#f8fa14"/>
<path class="pg" d="M145.4 42.15 L36.8 192.1 L170.75 275.5 L229.75 252.5 L296.5 148.25 L242 112.5 L227.5 100 L219 76.25 L167.5 42.15"/>
<path d="M23.25 42.15 H322.25 V304.3" class="ax2"/><path d="M23.25 41.65 V304.3 H322.75" class="ax"/>
<line x1="60.62" y1="39.15" x2="60.62" y2="42.15" class="tk"/><line x1="60.62" y1="304.3" x2="60.62" y2="307.3" class="tk"/>
<line x1="284.88" y1="39.15" x2="284.88" y2="42.15" class="tk"/><line x1="284.88" y1="304.3" x2="284.88" y2="307.3" class="tk"/>
<line x1="20.25" y1="82.48" x2="23.25" y2="82.48" class="tk"/><line x1="322.25" y1="82.48" x2="325.25" y2="82.48" class="tk"/>
<line x1="20.25" y1="263.97" x2="23.25" y2="263.97" class="tk"/><line x1="322.25" y1="263.97" x2="325.25" y2="263.97" class="tk"/>
<rect x="56.3" y="63.5" width="8.4" height="37" fill="#fff"/><text x="57.3" y="72.5" class="n" textLength="7.1" lengthAdjust="spacingAndGlyphs">N</text>
<path d="M60.5 75.9 L54.05 98.7 L60.8 90.4 Z" fill="#000" stroke="#000" stroke-width="0.15"/><path d="M60.5 75.9 L66.8 98.4 L60.8 90.4 Z" fill="#fff" stroke="#000" stroke-width="0.65"/>
<text class="pb" transform="translate(40.3,186.1) rotate(-54)">Parcel B</text>
<text class="tl" text-anchor="middle" x="60.33" y="322.4">8°0'0.1"E</text>
<text class="tl" text-anchor="middle" x="284.48" y="322.4">8°0'4.2"E</text>
<text class="tl" text-anchor="middle" transform="translate(14.2,82.18) rotate(-90)">44°37'29.7"N</text>
<text class="tl" text-anchor="middle" transform="translate(14.2,264.27) rotate(-90)">44°37'26.6"N</text>
<rect x="182.4" y="284.8" width="111.3" height="4.9" fill="#fff" stroke="#000" stroke-width="0.4"/><rect x="182.4" y="284.7" width="36.8" height="5.1" fill="#000"/><rect x="256.6" y="284.7" width="37.1" height="5.1" fill="#000"/>
<text class="sb" text-anchor="middle" x="182.4" y="280.6">0</text><text class="sb" text-anchor="middle" x="219.2" y="280.6">20</text><text class="sb" text-anchor="middle" x="256.6" y="280.6">40</text><text class="sb" x="285.2" y="280.6">60 m</text>
<text class="lt" x="156.4" y="343.1" textLength="25.8" lengthAdjust="spacing">(c)</text>
<text class="tb" x="149.9" y="21.8" textLength="11.8" lengthAdjust="spacingAndGlyphs" font-size="19">Y</text><text class="ts" x="163" y="13.8" font-size="13.8" textLength="8.8" lengthAdjust="spacingAndGlyphs">II</text><text class="ts" x="161.5" y="26.85" font-size="14.8" textLength="28.2" lengthAdjust="spacingAndGlyphs">UAV</text>
</g>
<g transform="translate(392.5,364.85)">
<rect x="23.25" y="42.15" width="299" height="262.15" fill="#fff"/>
<line x1="41.94" y1="42.15" x2="41.94" y2="304.3" class="gs"/>
<line x1="60.62" y1="42.15" x2="60.62" y2="304.3" class="gs"/>
<line x1="60.62" y1="42.15" x2="60.62" y2="304.3" class="gv"/>
<line x1="79.31" y1="42.15" x2="79.31" y2="304.3" class="gs"/>
<line x1="98" y1="42.15" x2="98" y2="304.3" class="gs"/>
<line x1="116.69" y1="42.15" x2="116.69" y2="304.3" class="gs"/>
<line x1="116.69" y1="42.15" x2="116.69" y2="304.3" class="gv"/>
<line x1="135.38" y1="42.15" x2="135.38" y2="304.3" class="gs"/>
<line x1="154.06" y1="42.15" x2="154.06" y2="304.3" class="gs"/>
<line x1="172.75" y1="42.15" x2="172.75" y2="304.3" class="gs"/>
<line x1="172.75" y1="42.15" x2="172.75" y2="304.3" class="gv"/>
<line x1="191.44" y1="42.15" x2="191.44" y2="304.3" class="gs"/>
<line x1="210.12" y1="42.15" x2="210.12" y2="304.3" class="gs"/>
<line x1="228.81" y1="42.15" x2="228.81" y2="304.3" class="gs"/>
<line x1="228.81" y1="42.15" x2="228.81" y2="304.3" class="gv"/>
<line x1="247.5" y1="42.15" x2="247.5" y2="304.3" class="gs"/>
<line x1="266.19" y1="42.15" x2="266.19" y2="304.3" class="gs"/>
<line x1="284.88" y1="42.15" x2="284.88" y2="304.3" class="gs"/>
<line x1="284.88" y1="42.15" x2="284.88" y2="304.3" class="gv"/>
<line x1="303.56" y1="42.15" x2="303.56" y2="304.3" class="gs"/>
<line x1="23.25" y1="62.32" x2="322.25" y2="62.32" class="gd"/>
<line x1="23.25" y1="82.48" x2="322.25" y2="82.48" class="gs"/>
<line x1="23.25" y1="102.65" x2="322.25" y2="102.65" class="gd"/>
<line x1="23.25" y1="122.81" x2="322.25" y2="122.81" class="gs"/>
<line x1="23.25" y1="142.98" x2="322.25" y2="142.98" class="gd"/>
<line x1="23.25" y1="163.14" x2="322.25" y2="163.14" class="gs"/>
<line x1="23.25" y1="183.31" x2="322.25" y2="183.31" class="gd"/>
<line x1="23.25" y1="203.47" x2="322.25" y2="203.47" class="gs"/>
<line x1="23.25" y1="223.64" x2="322.25" y2="223.64" class="gd"/>
<line x1="23.25" y1="243.8" x2="322.25" y2="243.8" class="gs"/>
<line x1="23.25" y1="263.97" x2="322.25" y2="263.97" class="gd"/>
<line x1="23.25" y1="284.13" x2="322.25" y2="284.13" class="gs"/>
<rect x="135.38" y="62.32" width="19.69" height="20.17" fill="#3e26a8"/>
<rect x="154.06" y="62.32" width="19.69" height="20.17" fill="#f8fa14"/>
<rect x="172.75" y="62.32" width="18.69" height="20.17" fill="#10bdb9"/>
<rect x="135.38" y="81.98" width="18.69" height="1.5" fill="#3e26a8"/>
<rect x="154.06" y="81.98" width="18.69" height="1.5" fill="#f8fa14"/>
<rect x="172.75" y="81.98" width="18.69" height="1.5" fill="#10bdb9"/>
<rect x="135.38" y="82.48" width="19.69" height="20.17" fill="#3e26a8"/>
<rect x="154.06" y="82.48" width="19.69" height="20.17" fill="#f8fa14"/>
<rect x="172.75" y="82.48" width="19.69" height="20.17" fill="#10bdb9"/>
<rect x="191.44" y="82.48" width="18.69" height="20.17" fill="#3e26a8"/>
<rect x="135.38" y="102.15" width="18.69" height="1.5" fill="#3e26a8"/>
<rect x="154.06" y="102.15" width="18.69" height="1.5" fill="#f8fa14"/>
<rect x="172.75" y="102.15" width="18.69" height="1.5" fill="#10bdb9"/>
<rect x="191.44" y="102.15" width="18.69" height="1.5" fill="#3e26a8"/>
<rect x="116.69" y="102.65" width="38.38" height="20.17" fill="#3e26a8"/>
<rect x="154.06" y="102.65" width="38.38" height="20.17" fill="#10bdb9"/>
<rect x="191.44" y="102.65" width="19.69" height="20.17" fill="#3e26a8"/>
<rect x="210.12" y="102.65" width="18.69" height="20.17" fill="#10bdb9"/>
<rect x="116.69" y="122.31" width="37.38" height="1.5" fill="#3e26a8"/>
<rect x="154.06" y="122.31" width="37.38" height="1.5" fill="#10bdb9"/>
<rect x="191.44" y="122.31" width="18.69" height="1.5" fill="#3e26a8"/>
<rect x="210.12" y="122.31" width="18.69" height="1.5" fill="#10bdb9"/>
<rect x="98" y="122.81" width="38.38" height="20.17" fill="#3e26a8"/>
<rect x="135.38" y="122.81" width="38.38" height="20.17" fill="#10bdb9"/>
<rect x="172.75" y="122.81" width="38.38" height="20.17" fill="#3e26a8"/>
<rect x="210.12" y="122.81" width="19.69" height="20.17" fill="#10bdb9"/>
<rect x="228.81" y="122.81" width="18.69" height="20.17" fill="#f8fa14"/>
<rect x="98" y="142.48" width="37.38" height="1.5" fill="#3e26a8"/>
<rect x="135.38" y="142.48" width="37.38" height="1.5" fill="#10bdb9"/>
<rect x="172.75" y="142.48" width="37.38" height="1.5" fill="#3e26a8"/>
<rect x="210.12" y="142.48" width="18.69" height="1.5" fill="#10bdb9"/>
<rect x="228.81" y="142.48" width="18.69" height="1.5" fill="#f8fa14"/>
<rect x="98" y="142.98" width="38.38" height="20.17" fill="#3e26a8"/>
<rect x="135.38" y="142.98" width="19.69" height="20.17" fill="#10bdb9"/>
<rect x="154.06" y="142.98" width="38.38" height="20.17" fill="#3e26a8"/>
<rect x="191.44" y="142.98" width="38.38" height="20.17" fill="#10bdb9"/>
<rect x="228.81" y="142.98" width="56.06" height="20.17" fill="#f8fa14"/>
<rect x="98" y="162.64" width="37.38" height="1.5" fill="#3e26a8"/>
<rect x="135.38" y="162.64" width="18.69" height="1.5" fill="#10bdb9"/>
<rect x="154.06" y="162.64" width="37.38" height="1.5" fill="#3e26a8"/>
<rect x="191.44" y="162.64" width="37.38" height="1.5" fill="#10bdb9"/>
<rect x="228.81" y="162.64" width="37.38" height="1.5" fill="#f8fa14"/>
<rect x="60.62" y="163.14" width="131.81" height="20.17" fill="#3e26a8"/>
<rect x="191.44" y="163.14" width="57.06" height="20.17" fill="#10bdb9"/>
<rect x="247.5" y="163.14" width="18.69" height="20.17" fill="#f8fa14"/>
<rect x="60.62" y="182.81" width="130.81" height="1.5" fill="#3e26a8"/>
<rect x="191.44" y="182.81" width="56.06" height="1.5" fill="#10bdb9"/>
<rect x="60.62" y="183.31" width="19.69" height="20.17" fill="#f8fa14"/>
<rect x="79.31" y="183.31" width="38.38" height="20.17" fill="#10bdb9"/>
<rect x="116.69" y="183.31" width="57.06" height="20.17" fill="#3e26a8"/>
<rect x="172.75" y="183.31" width="19.69" height="20.17" fill="#10bdb9"/>
<rect x="191.44" y="183.31" width="19.69" height="20.17" fill="#f8fa14"/>
<rect x="210.12" y="183.31" width="19.69" height="20.17" fill="#10bdb9"/>
<rect x="228.81" y="183.31" width="18.69" height="20.17" fill="#f8fa14"/>
<rect x="98" y="202.97" width="18.69" height="1.5" fill="#10bdb9"/>
<rect x="116.69" y="202.97" width="56.06" height="1.5" fill="#3e26a8"/>
<rect x="172.75" y="202.97" width="18.69" height="1.5" fill="#10bdb9"/>
<rect x="191.44" y="202.97" width="18.69" height="1.5" fill="#f8fa14"/>
<rect x="210.12" y="202.97" width="18.69" height="1.5" fill="#10bdb9"/>
<rect x="98" y="203.47" width="19.69" height="20.17" fill="#10bdb9"/>
<rect x="116.69" y="203.47" width="94.44" height="20.17" fill="#3e26a8"/>
<rect x="210.12" y="203.47" width="18.69" height="20.17" fill="#f8fa14"/>
<rect x="116.69" y="223.14" width="93.44" height="1.5" fill="#3e26a8"/>
<rect x="210.12" y="223.14" width="18.69" height="1.5" fill="#f8fa14"/>
<rect x="116.69" y="223.64" width="38.38" height="20.17" fill="#f8fa14"/>
<rect x="154.06" y="223.64" width="74.75" height="20.17" fill="#3e26a8"/>
<rect x="172.75" y="243.3" width="18.69" height="1.5" fill="#3e26a8"/>
<rect x="172.75" y="243.8" width="18.69" height="20.17" fill="#f8fa14"/>
<path class="pg" d="M145.4 42.15 L36.8 192.1 L170.75 275.5 L229.75 252.5 L296.5 148.25 L242 112.5 L227.5 100 L219 76.25 L167.5 42.15"/>
<path d="M23.25 42.15 H322.25 V304.3" class="ax2"/><path d="M23.25 41.65 V304.3 H322.75" class="ax"/>
<line x1="60.62" y1="39.15" x2="60.62" y2="42.15" class="tk"/><line x1="60.62" y1="304.3" x2="60.62" y2="307.3" class="tk"/>
<line x1="284.88" y1="39.15" x2="284.88" y2="42.15" class="tk"/><line x1="284.88" y1="304.3" x2="284.88" y2="307.3" class="tk"/>
<line x1="20.25" y1="82.48" x2="23.25" y2="82.48" class="tk"/><line x1="322.25" y1="82.48" x2="325.25" y2="82.48" class="tk"/>
<line x1="20.25" y1="263.97" x2="23.25" y2="263.97" class="tk"/><line x1="322.25" y1="263.97" x2="325.25" y2="263.97" class="tk"/>
<rect x="56.3" y="63.5" width="8.4" height="37" fill="#fff"/><text x="57.3" y="72.5" class="n" textLength="7.1" lengthAdjust="spacingAndGlyphs">N</text>
<path d="M60.5 75.9 L54.05 98.7 L60.8 90.4 Z" fill="#000" stroke="#000" stroke-width="0.15"/><path d="M60.5 75.9 L66.8 98.4 L60.8 90.4 Z" fill="#fff" stroke="#000" stroke-width="0.65"/>
<text class="pb" transform="translate(40.3,186.1) rotate(-54)">Parcel B</text>
<text class="tl" text-anchor="middle" x="60.33" y="322.4">8°0'0.1"E</text>
<text class="tl" text-anchor="middle" x="284.48" y="322.4">8°0'4.2"E</text>
<text class="tl" text-anchor="middle" transform="translate(14.2,82.18) rotate(-90)">44°37'29.7"N</text>
<text class="tl" text-anchor="middle" transform="translate(14.2,264.27) rotate(-90)">44°37'26.6"N</text>
<rect x="182.4" y="284.8" width="111.3" height="4.9" fill="#fff" stroke="#000" stroke-width="0.4"/><rect x="182.4" y="284.7" width="36.8" height="5.1" fill="#000"/><rect x="256.6" y="284.7" width="37.1" height="5.1" fill="#000"/>
<text class="sb" text-anchor="middle" x="182.4" y="280.6">0</text><text class="sb" text-anchor="middle" x="219.2" y="280.6">20</text><text class="sb" text-anchor="middle" x="256.6" y="280.6">40</text><text class="sb" x="285.2" y="280.6">60 m</text>
<text class="lt" x="157.1" y="343.1" textLength="25.8" lengthAdjust="spacing">(d)</text>
<text class="tb" x="154.9" y="22.85" textLength="12.8" lengthAdjust="spacingAndGlyphs" font-size="20">V</text><text class="ts" x="167.8" y="14.5" font-size="14" textLength="9.2" lengthAdjust="spacingAndGlyphs">II</text><text class="ts" x="166.7" y="27.15" font-size="14.8" textLength="27.8" lengthAdjust="spacingAndGlyphs">field</text>
</g>
<rect x="22.5" y="756.4" width="231.03" height="9.4" fill="#3e26a8"/><rect x="253.33" y="756.4" width="231.03" height="9.4" fill="#10bdb9"/><rect x="484.17" y="756.4" width="230.83" height="9.4" fill="#f8fa14"/>
<line x1="137.92" y1="756.4" x2="137.92" y2="765.8" stroke="#262626" stroke-opacity="0.22" stroke-width="0.6"/><text class="mono" font-size="9" text-anchor="middle" x="137.92" y="778.4">L</text>
<line x1="368.75" y1="756.4" x2="368.75" y2="765.8" stroke="#262626" stroke-opacity="0.22" stroke-width="0.6"/><text class="mono" font-size="9" text-anchor="middle" x="368.75" y="778.4">M</text>
<line x1="599.58" y1="756.4" x2="599.58" y2="765.8" stroke="#262626" stroke-opacity="0.22" stroke-width="0.6"/><text class="mono" font-size="9" text-anchor="middle" x="599.58" y="778.4">H</text>
<text class="mono" font-size="10" text-anchor="middle" x="368.8" y="791.5">Vigour classes</text>
</svg></body></html>
